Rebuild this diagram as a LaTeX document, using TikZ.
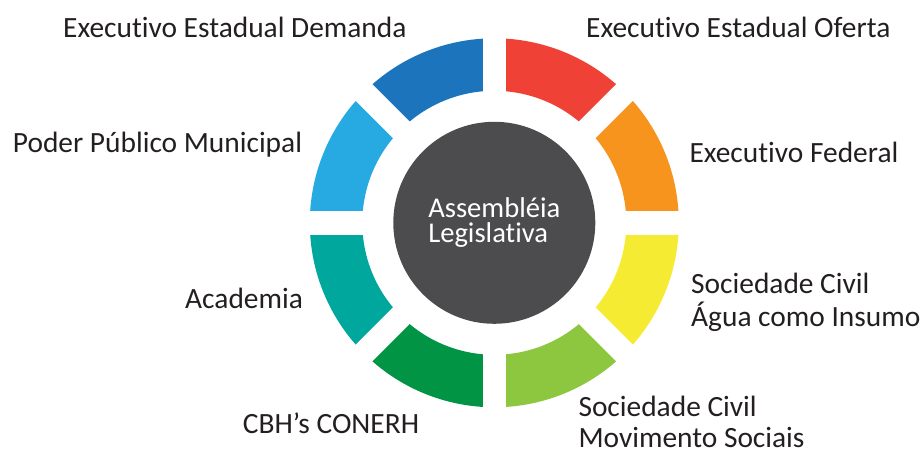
\documentclass[tikz,border=0pt]{standalone}
\usepackage{fontspec}
\setmainfont{Carlito}[Ligatures=NoCommon]
\definecolor{cOrange}{HTML}{F7941D}
\definecolor{cRed}{HTML}{EF4136}
\definecolor{cBlue}{HTML}{1C75BC}
\definecolor{cLBlue}{HTML}{27AAE1}
\definecolor{cTeal}{HTML}{00A79D}
\definecolor{cDGreen}{HTML}{009444}
\definecolor{cLGreen}{HTML}{8DC63F}
\definecolor{cYellow}{HTML}{F6EB33}
\definecolor{cCore}{HTML}{4C4C4E}
\definecolor{cText}{HTML}{231F20}
\begin{document}
\begin{tikzpicture}[x=1pt,y=1pt,
  lbl/.style={anchor=base west,inner sep=0pt,text=cText,font=\fontsize{29.4}{33}\selectfont},
  gapline/.style={draw=white,line width=23.5pt}]
\useasboundingbox (0,0) rectangle (923,454);
\coordinate (C) at (494.3,231.2);
\def\Ro{184.5}\def\Ri{132}
\foreach \a/\col in {0/cOrange,45/cRed,90/cBlue,135/cLBlue,180/cTeal,225/cDGreen,270/cLGreen,315/cYellow}{
  \fill[\col] ([shift={(\a:\Ro)}]C) arc[start angle=\a,end angle=\a+45,radius=\Ro]
    -- ([shift={(\a+45:\Ri)}]C) arc[start angle=\a+45,end angle=\a,radius=\Ri] -- cycle;
}
\foreach \a in {0,45,90,135}{
  \draw[gapline] ([shift={(\a:195)}]C) -- ([shift={(\a+180:195)}]C);
}
\node[circle,fill=cCore,minimum size=202pt,inner sep=0pt,align=left,text=white,
  font=\fontsize{28.6}{25}\selectfont] (core) at (C) {Assembléia\\Legislativa};
\node[lbl] (demanda) at (63,416.3) {Executivo Estadual Demanda};
\node[lbl] (oferta) at (586,416.3) {Executivo Estadual Oferta};
\node[lbl] (poder) at (12.7,301.7) {Poder Público Municipal};
\node[lbl] (federal) at (689.3,291.7) {Executivo Federal};
\node[lbl] (socA) at (691,160.5) {Sociedade Civil};
\node[lbl] (agua) at (691,127.3) {Água como Insumo};
\node[lbl] (academia) at (185,145) {Academia};
\node[lbl] (cbh) at (242.7,20.7) {CBH’s CONERH};
\node[lbl] (socB) at (578.3,37) {Sociedade Civil};
\node[lbl] (mov) at (578.3,6) {Movimento Sociais};
\end{tikzpicture}
\end{document}
